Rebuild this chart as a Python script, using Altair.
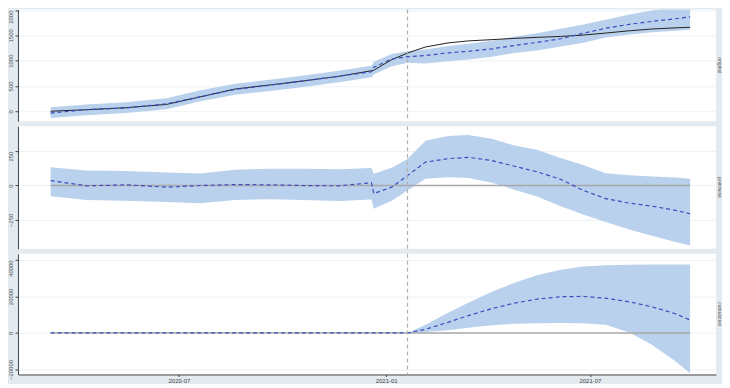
import altair as alt
import pandas as pd

# ---- data ----
dates = ["2020-03-09", "2020-04-10", "2020-05-15", "2020-06-20", "2020-07-20",
         "2020-08-20", "2020-09-20", "2020-10-20", "2020-11-20", "2020-12-19",
         "2020-12-21", "2021-01-06", "2021-01-20", "2021-02-05", "2021-02-25",
         "2021-03-15", "2021-04-05", "2021-04-25", "2021-05-15", "2021-06-05",
         "2021-06-25", "2021-07-15", "2021-08-05", "2021-08-25", "2021-09-15",
         "2021-09-28"]

actual = [0, 30, 70, 135, 285, 440, 520, 600, 690, 800, 810, 1020, 1150, 1270,
          1350, 1390, 1415, 1440, 1460, 1478, 1505, 1545, 1590, 1625, 1648, 1660]
predicted = [-36, 32, 65, 147, 285, 433, 515, 600, 692, 780, 868, 1032, 1078, 1100,
             1155, 1185, 1234, 1300, 1360, 1433, 1540, 1640, 1718, 1775, 1828, 1865]
pred_lower = [-133, -80, -35, 40, 197, 325, 398, 478, 572, 673, 725, 890, 957, 944,
              990, 1023, 1075, 1150, 1200, 1278, 1355, 1455, 1515, 1559, 1590, 1611]
pred_upper = [78, 135, 180, 255, 413, 545, 620, 705, 802, 901, 979, 1130, 1186, 1221,
              1290, 1335, 1395, 1470, 1540, 1628, 1715, 1810, 1910, 1990, 2058, 2095]

pointwise = [36, -2, 5, -12, 0, 7, 5, 0, -2, 20, -58, -12, 72, 170, 195, 205, 181,
             140, 100, 45, -35, -95, -128, -150, -180, -205]
point_upper = [133, 110, 105, 95, 88, 115, 122, 122, 118, 127, 85, 130, 193, 326,
               360, 367, 340, 290, 260, 200, 150, 90, 75, 66, 58, 49]
point_lower = [-78, -105, -110, -120, -128, -105, -100, -105, -112, -101, -169, -110,
               -36, 49, 60, 55, 20, -30, -80, -150, -210, -265, -320, -365, -410, -435]

cumulative = [0, 0, 0, 0, 0, 0, 0, 0, 0, 0, 0, 0, 0, 2000, 5800, 9500, 13300, 16300,
              18500, 19800, 20000, 19000, 17000, 14300, 10500, 7000]
cum_upper = [0, 0, 0, 0, 0, 0, 0, 0, 0, 0, 0, 0, 0, 4500, 11000, 16500, 22500, 27500,
             31500, 34500, 36300, 37000, 37300, 37500, 37500, 37500]
cum_lower = [0, 0, 0, 0, 0, 0, 0, 0, 0, 0, 0, 0, 0, 500, 1500, 2800, 4200, 5000,
             5300, 5400, 5300, 4500, 300, -6500, -15500, -22000]

intervention = "2021-01-20"
panel_labels = ["original", "pointwise", "cumulative"]

# ---- styling ----
W = 700
BG = "#e3ebf0"
BAND = "#b9d1ec"
DASH = "#3b4cc0"
GRID = "#edf2f5"
AXC = "#444444"
FONT = "Liberation Sans"

df = pd.DataFrame({
    "date": dates, "actual": actual, "pred": predicted, "plo": pred_lower, "pup": pred_upper,
    "pw": pointwise, "pwlo": point_lower, "pwup": point_upper,
    "cum": cumulative, "cumlo": cum_lower, "cumup": cum_upper,
})
vdf = pd.DataFrame({"date": [intervention]})
zdf = pd.DataFrame({"d0": [dates[0]], "d1": [dates[-1]], "z": [0]})

xscale = alt.Scale(domain=[alt.DateTime(year=2020, month=2, date=9),
                           alt.DateTime(year=2021, month=10, date=21)])


def xaxis(show):
    if not show:
        return None
    return alt.Axis(values=[alt.DateTime(year=2020, month=7, date=1),
                            alt.DateTime(year=2021, month=1, date=1),
                            alt.DateTime(year=2021, month=7, date=1)],
                    format="%Y-%m", labelFontSize=6, labelColor=AXC, labelPadding=1,
                    tickSize=2, tickColor=AXC, domainColor=AXC, grid=False, title=None,
                    labelFont=FONT, labelOverlap=False)


def yaxis(vals, flush_top):
    return alt.Axis(values=vals, format="d", labelAngle=270, labelFontSize=6,
                    labelColor="#555555", labelPadding=1, labelOverlap=False,
                    labelAlign={"condition": {"test": "datum.value >= %d" % flush_top,
                                              "value": "right"},
                                "value": "center"},
                    tickSize=3, tickColor=AXC, domainColor=AXC,
                    grid=True, gridColor=GRID, title=None, labelFont=FONT)


def panel(lo, up, mid, dom, ticks, h, show_x, label, solid=None, zero=False):
    base = alt.Chart(df)
    ys = alt.Scale(domain=dom, nice=False, zero=False)
    ax = yaxis(ticks, ticks[-1])
    xa = xaxis(show_x)
    X = lambda f: alt.X(f, type="temporal", scale=xscale, axis=xa)
    layers = [
        base.mark_area(color=BAND, opacity=1, clip=True).encode(
            x=X("date"),
            y=alt.Y(lo, type="quantitative", scale=ys, axis=ax),
            y2=alt.Y2(up)),
    ]
    if zero:
        layers.append(alt.Chart(zdf).mark_rule(color="#a8a8a8", strokeWidth=1.4).encode(
            x=X("d0"), x2="d1:T", y=alt.Y("z:Q", axis=ax)))
    if solid is not None:
        layers.append(base.mark_line(color="#222222", strokeWidth=1, clip=True).encode(
            x=X("date"), y=alt.Y(solid, type="quantitative", axis=ax)))
    layers.append(base.mark_line(color=DASH, strokeWidth=1.2, strokeDash=[4, 3],
                                 clip=True).encode(
        x=X("date"), y=alt.Y(mid, type="quantitative", axis=ax)))
    layers.append(alt.Chart(vdf).mark_rule(color="#b0b0b0", strokeWidth=1.2,
                                           strokeDash=[4, 3]).encode(x=X("date")))
    layers.append(alt.Chart(vdf).mark_text(angle=90, fontSize=5, color="#555555",
                                           font=FONT).encode(
        x=alt.value(W + 4), y=alt.value(h / 2), text=alt.value(label)))
    return alt.layer(*layers).properties(width=W, height=h)


p1 = panel("plo", "pup", "pred", [-197, 2010], [0, 500, 1000, 1500, 2000], 112, False,
           panel_labels[0], solid="actual")
p2 = panel("pwlo", "pwup", "pw", [-460, 431], [-250, 0, 250], 123, False,
           panel_labels[1], zero=True)
p3 = panel("cumlo", "cumup", "cum", [-22730, 43270], [-20000, 0, 20000, 40000], 121, True,
           panel_labels[2], zero=True)

chart = alt.vconcat(p1, p2, p3, spacing=3).configure(
    background=BG, padding=0
).configure_view(fill="white", stroke=None).configure_axis(labelOverlap=False)

chart.save("out.html", embed_options={"renderer": "svg", "actions": False})
